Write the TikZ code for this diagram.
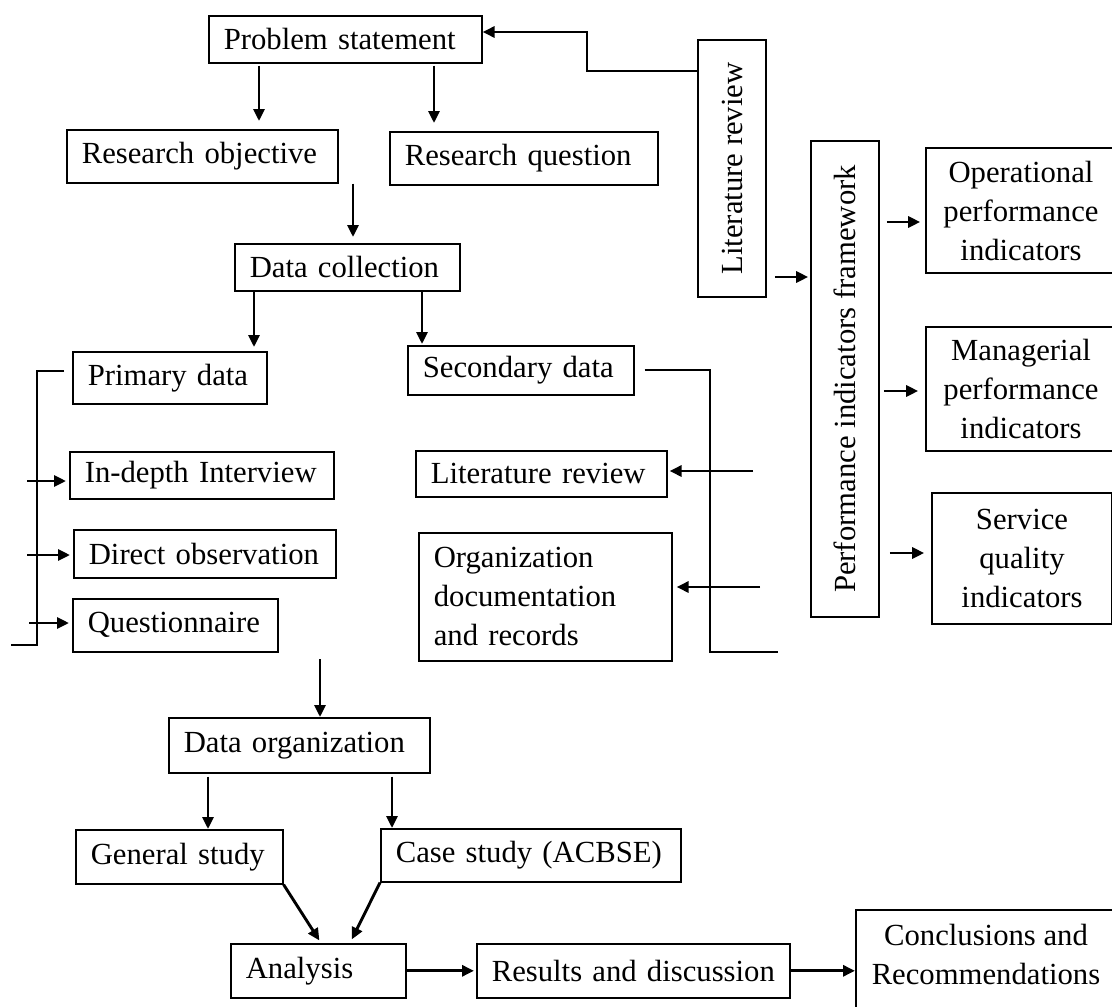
\documentclass[tikz,border=0pt]{standalone}
\usepackage{fontspec}
\setmainfont{Liberation Serif}
\usepackage{graphicx}
\usetikzlibrary{arrows.meta}
\begin{document}
\begin{tikzpicture}[x=1pt,y=-1pt,
  every node/.style={font=\fontsize{30.7pt}{39pt}\selectfont},
  box/.style={draw, line width=1.6pt, anchor=north west, inner xsep=15pt, inner ysep=0pt, align=left},
  cbox/.style={draw, line width=1.6pt, inner sep=0pt, align=center},
  arr/.style={line width=2.9pt, -{Triangle[length=12pt,width=11pt]}},
  ln/.style={line width=2.9pt}]
\fill[white] (0,0) rectangle (1112,1007);
\clip (0,0) rectangle (1112,1007);

% left / centre column
\node[box, text width=243pt, minimum height=47pt] (ps) at (208,15) {\mbox{Problem statement}};
\node[box, text width=241pt, minimum height=53pt] (ro) at (66,129) {\mbox{Research objective}};
\node[box, text width=238pt, minimum height=53pt] (rq) at (389,131) {\mbox{Research question}};
\node[box, text width=195pt, minimum height=47pt] (dc) at (234,243) {\mbox{Data collection}};
\node[box, text width=164pt, minimum height=52pt] (pd) at (72,351) {\mbox{Primary data}};
\node[box, text width=196pt, minimum height=49pt] (sd) at (407,345) {\mbox{Secondary data}};
\node[box, text width=234pt, minimum height=47pt] (idi) at (69,451) {\mbox{In-depth Interview}};
\node[box, text width=232pt, minimum height=48pt] (dob) at (73,529) {\mbox{Direct observation}};
\node[box, text width=175pt, minimum height=53pt] (qn) at (72,598) {\mbox{Questionnaire}};
\node[box, text width=221pt, minimum height=46pt] (lr) at (415,450) {\mbox{Literature review}};
\node[box, text width=223pt, minimum height=128pt] (org) at (418,532) {Organization\\documentation\\and records};
\node[box, text width=231pt, minimum height=55pt] (dor) at (168,717) {\mbox{Data organization}};
\node[box, text width=177pt, minimum height=54pt] (gs) at (75,829) {\mbox{General study}};
\node[box, text width=270pt, minimum height=53pt] (cs) at (380,828) {\mbox{Case study (ACBSE)}};
\node[box, text width=145pt, minimum height=54pt] (an) at (230,943) {\mbox{Analysis}};
\node[box, text width=283pt, minimum height=54pt] (rd) at (476,943) {\mbox{Results and discussion}};
\node[draw, line width=1.6pt, anchor=north west, minimum width=262pt, minimum height=130pt, inner sep=0pt] (cr) at (855,909) {};
\node[align=center] (crt) at (986,954) {Conclusions and\\Recommendations};

% right column
\node[cbox, minimum width=68pt, minimum height=257pt] (lit) at (732,168.5) {\rotatebox{90}{Literature review}};
\node[cbox, minimum width=68pt, minimum height=476pt] (pif) at (845,379) {\rotatebox{90}{Performance indicators framework}};
\node[cbox, minimum width=190pt, minimum height=125pt] (op) at (1021,210.5) {Operational\\performance\\indicators};
\node[cbox, minimum width=190pt, minimum height=124pt] (mg) at (1021,389) {Managerial\\performance\\indicators};
\node[cbox, minimum width=180pt, minimum height=131pt] (sq) at (1022,558.5) {Service\\quality\\indicators};

% helper coordinates
\coordinate (k1) at (587,71);
\coordinate (k2) at (587,32);
\coordinate (xa) at (259,0);
\coordinate (xb) at (434,0);
\coordinate (xc) at (353,0);
\coordinate (xd) at (254,0);
\coordinate (xe) at (422,0);
\coordinate (pb1) at (37,371);
\coordinate (pb2) at (37,645);
\coordinate (pend) at (11,645);
\coordinate (a1) at (27,481);
\coordinate (a2) at (27,555);
\coordinate (a3) at (29,623);
\coordinate (sb1) at (710,370);
\coordinate (sb2) at (710,652);
\coordinate (send) at (778,652);
\coordinate (l1) at (753,471);
\coordinate (o1) at (760,587);
\coordinate (c1) at (320,659);
\coordinate (xf) at (208,0);
\coordinate (xg) at (392,0);
\coordinate (m1) at (774,277);
\coordinate (p1) at (886,222);
\coordinate (p2) at (883,391);
\coordinate (p3) at (889,553);

% connectors
\draw[arr] (lit.west |- k1) -- (k1) -- (k2) -- (k2 -| ps.east);
\draw[arr, shorten <=2pt, shorten >=8pt] (xa |- ps.south) -- (xa |- ro.north);
\draw[arr, shorten <=2pt, shorten >=8pt] (xb |- ps.south) -- (xb |- rq.north);
\draw[arr, shorten >=6pt] (xc |- ro.south) -- (xc |- dc.north);
\draw[arr, shorten >=4pt] (xd |- dc.south) -- (xd |- pd.north);
\draw[arr, shorten >=1pt] (xe |- dc.south) -- (xe |- sd.north);

\draw[ln, shorten <=8pt] (pd.west |- pb1) -- (pb1) -- (pb2) -- (pend);
\draw[arr, shorten >=3pt] (a1) -- (a1 -| idi.west);
\draw[arr, shorten >=3pt] (a2) -- (a2 -| dob.west);
\draw[arr, shorten >=3pt] (a3) -- (a3 -| qn.west);

\draw[ln, shorten <=10pt] (sd.east |- sb1) -- (sb1) -- (sb2) -- (send);
\draw[arr, shorten >=2pt] (l1) -- (l1 -| lr.east);
\draw[arr, shorten >=4pt] (o1) -- (o1 -| org.east);

\draw[arr] (c1) -- (c1 |- dor.north);
\draw[arr, shorten <=3pt] (xf |- dor.south) -- (xf |- gs.north);
\draw[arr, shorten <=3pt] (xg |- dor.south) -- (xg |- cs.north);
\draw[arr, shorten >=3pt] (gs.south east) -- ([xshift=91pt]an.north west);
\draw[arr, shorten >=4pt] (cs.south west) -- ([xshift=120pt]an.north west);
\draw[arr, shorten >=2pt] (an.east) -- (rd.west);
\draw[arr] (rd.east) -- (rd.east -| cr.west);

\draw[arr, shorten <=8pt, shorten >=2pt] (lit.east |- m1) -- (m1 -| pif.west);
\draw[arr, shorten <=7pt, shorten >=5pt] (pif.east |- p1) -- (p1 -| op.west);
\draw[arr, shorten <=4pt, shorten >=7pt] (pif.east |- p2) -- (p2 -| mg.west);
\draw[arr, shorten <=10pt, shorten >=7pt] (pif.east |- p3) -- (p3 -| sq.west);
\end{tikzpicture}
\end{document}
